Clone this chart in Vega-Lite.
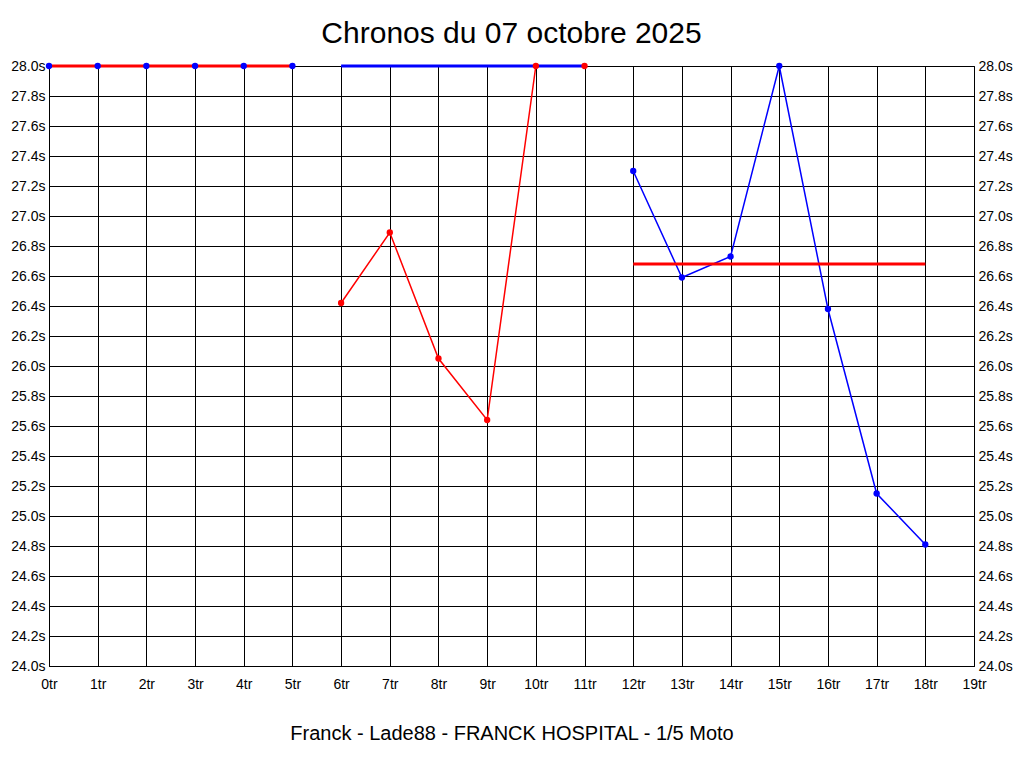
{
  "$schema": "https://vega.github.io/schema/vega-lite/v6.json",
  "width": 925,
  "height": 600,
  "autosize": {"type": "none"},
  "padding": {"left": 49, "top": 66, "right": 50, "bottom": 102},
  "background": "white",
  "title": {
    "text": "Chronos du 07 octobre 2025",
    "font": "Liberation Sans",
    "fontSize": 30,
    "fontWeight": "normal",
    "color": "black",
    "anchor": "middle",
    "baseline": "alphabetic",
    "offset": -14
  },
  "config": {
    "view": {"stroke": "black", "strokeWidth": 1},
    "axis": {
      "gridColor": "black",
      "gridOpacity": 1,
      "gridWidth": 1,
      "domainColor": "black",
      "domainWidth": 1,
      "tickSize": 0,
      "labelFont": "Liberation Sans",
      "labelFontSize": 14,
      "labelColor": "black",
      "labelFlush": false,
      "labelOverlap": false,
      "titleFont": "Liberation Sans",
      "titleColor": "black",
      "titleFontWeight": "normal"
    }
  },
  "datasets": {
    "tours": [
      {"tr": 0, "chrono": 28.0, "pilote": "bleu", "seg": 1},
      {"tr": 1, "chrono": 28.0, "pilote": "bleu", "seg": 1},
      {"tr": 2, "chrono": 28.0, "pilote": "bleu", "seg": 1},
      {"tr": 3, "chrono": 28.0, "pilote": "bleu", "seg": 1},
      {"tr": 4, "chrono": 28.0, "pilote": "bleu", "seg": 1},
      {"tr": 5, "chrono": 28.0, "pilote": "bleu", "seg": 1},
      {"tr": 6, "chrono": 26.42, "pilote": "rouge", "seg": 2},
      {"tr": 7, "chrono": 26.89, "pilote": "rouge", "seg": 2},
      {"tr": 8, "chrono": 26.05, "pilote": "rouge", "seg": 2},
      {"tr": 9, "chrono": 25.64, "pilote": "rouge", "seg": 2},
      {"tr": 10, "chrono": 28.0, "pilote": "rouge", "seg": 2},
      {"tr": 11, "chrono": 28.0, "pilote": "rouge", "seg": 2},
      {"tr": 12, "chrono": 27.3, "pilote": "bleu", "seg": 3},
      {"tr": 13, "chrono": 26.59, "pilote": "bleu", "seg": 3},
      {"tr": 14, "chrono": 26.73, "pilote": "bleu", "seg": 3},
      {"tr": 15, "chrono": 28.0, "pilote": "bleu", "seg": 3},
      {"tr": 16, "chrono": 26.38, "pilote": "bleu", "seg": 3},
      {"tr": 17, "chrono": 25.15, "pilote": "bleu", "seg": 3},
      {"tr": 18, "chrono": 24.81, "pilote": "bleu", "seg": 3}
    ],
    "moyennes": [
      {"tr": 0, "chrono": 28.0, "pilote": "rouge", "seg": "a"},
      {"tr": 5, "chrono": 28.0, "pilote": "rouge", "seg": "a"},
      {"tr": 6, "chrono": 28.0, "pilote": "bleu", "seg": "b"},
      {"tr": 11, "chrono": 28.0, "pilote": "bleu", "seg": "b"},
      {"tr": 12, "chrono": 26.68, "pilote": "rouge", "seg": "c"},
      {"tr": 18, "chrono": 26.68, "pilote": "rouge", "seg": "c"}
    ]
  },
  "resolve": {"axis": {"y": "independent"}},
  "layer": [
    {
      "data": {"name": "tours"},
      "mark": {"type": "line", "strokeWidth": 1.5},
      "encoding": {
        "x": {
          "field": "tr", "type": "quantitative",
          "scale": {"domain": [0, 19], "nice": false, "zero": false},
          "axis": {
            "values": [0,1,2,3,4,5,6,7,8,9,10,11,12,13,14,15,16,17,18,19],
            "labelExpr": "datum.value + 'tr'",
            "labelPadding": 11,
            "grid": true,
            "title": "Franck - Lade88 - FRANCK HOSPITAL - 1/5 Moto",
            "titleFontSize": 20,
            "titlePadding": 32
          }
        },
        "y": {
          "field": "chrono", "type": "quantitative",
          "scale": {"domain": [24, 28], "nice": false, "zero": false},
          "axis": {
            "orient": "left",
            "values": [24,24.2,24.4,24.6,24.8,25,25.2,25.4,25.6,25.8,26,26.2,26.4,26.6,26.8,27,27.2,27.4,27.6,27.8,28],
            "labelExpr": "format(datum.value, '.1f') + 's'",
            "labelPadding": 4,
            "grid": true,
            "title": null
          }
        },
        "color": {
          "field": "pilote", "type": "nominal",
          "scale": {"domain": ["rouge", "bleu"], "range": ["#ff0000", "#0000ff"]},
          "legend": null
        },
        "detail": {"field": "seg", "type": "nominal"}
      }
    },
    {
      "data": {"name": "moyennes"},
      "mark": {"type": "line", "strokeWidth": 3},
      "encoding": {
        "x": {"field": "tr", "type": "quantitative"},
        "y": {
          "field": "chrono", "type": "quantitative",
          "axis": {
            "orient": "right",
            "values": [24,24.2,24.4,24.6,24.8,25,25.2,25.4,25.6,25.8,26,26.2,26.4,26.6,26.8,27,27.2,27.4,27.6,27.8,28],
            "labelExpr": "format(datum.value, '.1f') + 's'",
            "labelPadding": 4,
            "grid": false,
            "domain": false,
            "title": null
          }
        },
        "color": {"field": "pilote", "type": "nominal", "legend": null},
        "detail": {"field": "seg", "type": "nominal"}
      }
    },
    {
      "data": {"name": "tours"},
      "mark": {"type": "point", "filled": true, "opacity": 1, "size": 40},
      "encoding": {
        "x": {"field": "tr", "type": "quantitative"},
        "y": {"field": "chrono", "type": "quantitative", "axis": null},
        "color": {"field": "pilote", "type": "nominal", "legend": null}
      }
    }
  ]
}
